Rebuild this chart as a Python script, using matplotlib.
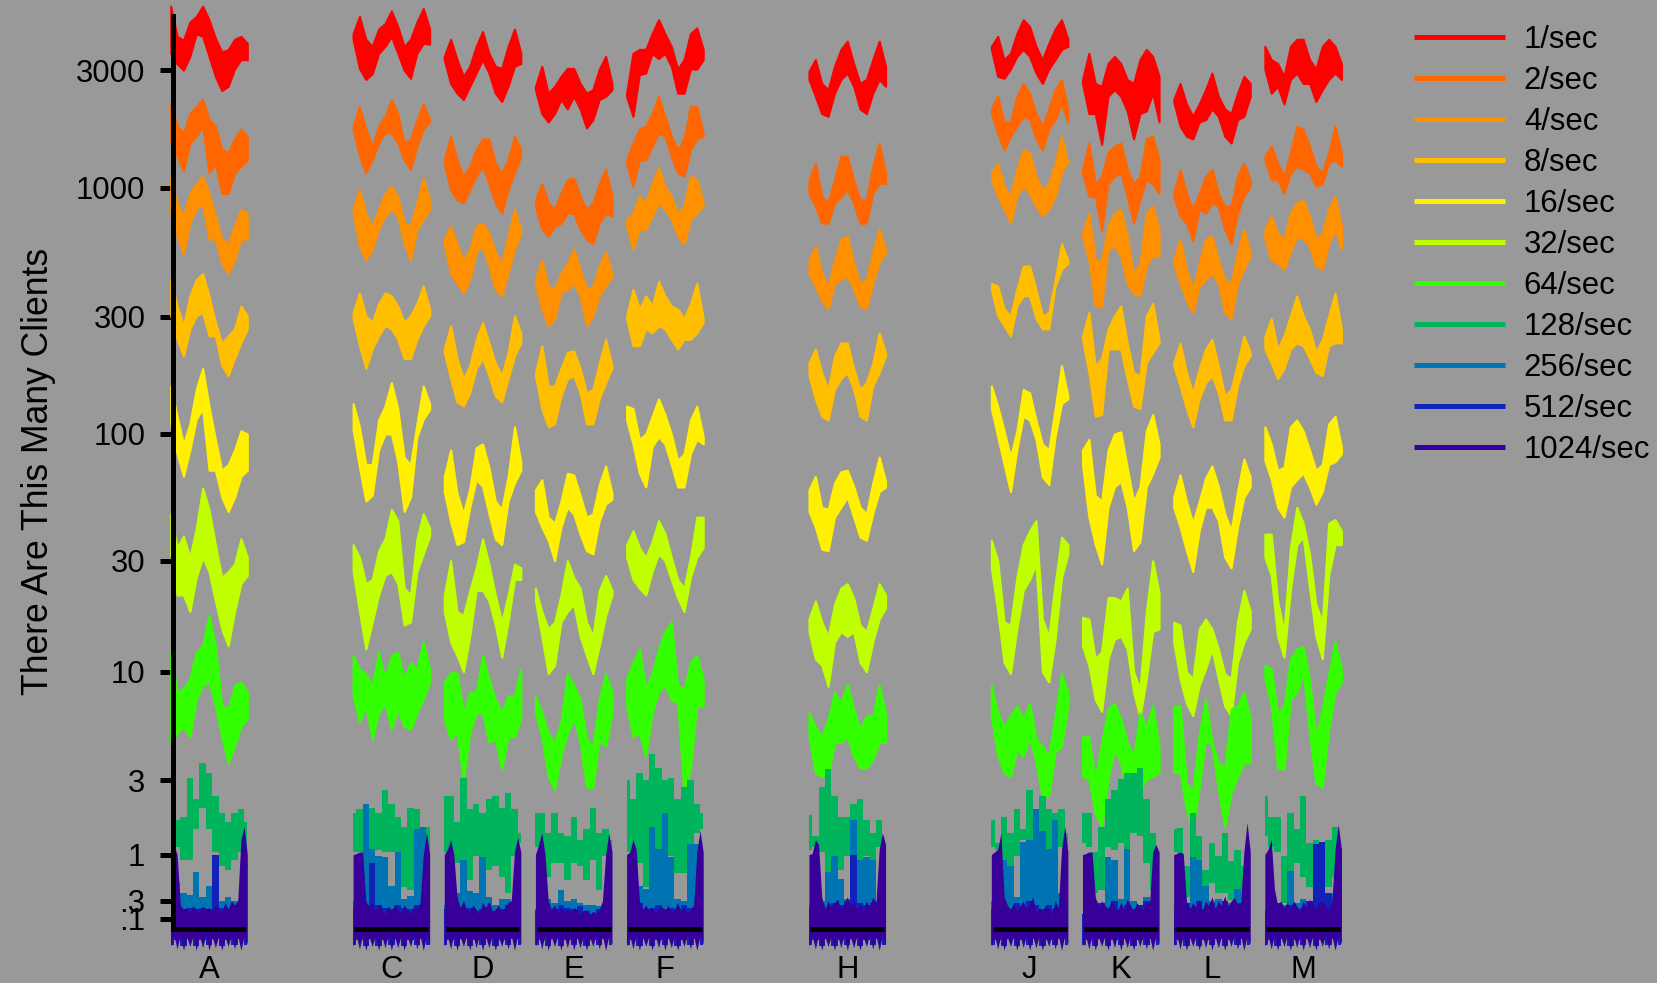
import numpy as np
import matplotlib
matplotlib.use("Agg")
import matplotlib.pyplot as plt
from matplotlib.lines import Line2D

plt.rcParams['font.family'] = ['Liberation Sans', 'DejaVu Sans']

rates = ['1/sec', '2/sec', '4/sec', '8/sec', '16/sec', '32/sec', '64/sec',
         '128/sec', '256/sec', '512/sec', '1024/sec']
colors = ['#FF0000', '#FF6600', '#FF9000', '#FFBF00', '#FFF000', '#BFFF00',
          '#33FF00', '#00B45C', '#0073B3', '#1122BB', '#360099']
ytick_vals = [.1, .3, 1, 3, 10, 30, 100, 300, 1000, 3000]
ytick_text = ['.1', '.3', '1', '3', '10', '30', '100', '300', '1000', '3000']
slots = {'A': 0, 'C': 2, 'D': 3, 'E': 4, 'F': 5, 'H': 7, 'J': 9, 'K': 10, 'L': 11, 'M': 12}

# upper and lower edge of each band, rows are 1/sec .. 128/sec
A_hi = [[5445,4110,3970,4700,4950,5445,4800,4040,3560,3630,4000,4110,3850],
        [2190,1780,1670,2000,2140,2290,1890,1780,1440,1390,1580,1730,1620],
        [1095,870,768,950,1040,1115,950,768,620,595,700,820,790],
        [425,332,276,365,425,450,365,285,235,251,268,332,303],
        [157,118,91,110,152,185,130,95,71,75,86,103,100],
        [47,34,38,31,41,60,49,35,25.5,27,29,37,31],
        [12.2,8.1,8.4,9.3,12.2,13,17.6,13,7,6.8,8.7,9,8.1],
        [4.2,1.77,1.85,3.1,2.35,3.7,3.3,2.45,1.95,1.7,1.95,2.05,1.7]]
A_lo = [[3510,3180,3000,3410,4210,4110,3410,2830,2480,2580,3030,3310,3310],
        [1520,1345,1170,1520,1620,1780,1150,1260,950,950,1150,1225,1300],
        [790,638,540,720,820,870,620,620,495,450,510,620,620],
        [303,243,208,268,303,312,251,251,190,173,203,235,268],
        [110,83,67,86,115,127,71,71,55,48,55,67,71],
        [32,21.5,21.5,18.3,25.5,31,27,20.3,15.4,13,18.3,24,26],
        [4.7,5.2,5.6,5,7.5,8.7,9,7,5,3.7,4.5,5.6,6.1],
        [1.95,1.15,.91,.91,1.53,2.1,1.53,1.05,.8,.74,.91,1.05,.85]]
A_256 = [.3,.55,.4,.37,.7,.35,.5,.4,.3,.35,.3,.28,.35]
A_512 = [.2,.18,.2,.22,.2,.22,.2,1.0,.22,.2,.25,.3,.2]
A_1024 = [1,1.2,1.0,.25,.2,.22,.17,.24,.2,.16,.24,.2,.22,.18,.25,.22,.16,.28,.2,.3,.25,.3,1.3,1.6,1.0]

C_hi = [[4220,4950,4000,3745,4400,4630,5210,4510,3745,4000,4700,5330,4400],
        [1780,2140,1730,1475,1780,1950,2280,2000,1520,1580,1890,2190,1890],
        [820,985,790,700,820,950,1015,925,720,700,870,1095,895],
        [312,375,303,285,340,375,365,332,285,303,340,400,323],
        [133,107,75,75,114,130,162,127,80,75,110,157,133],
        [35,31,24,25,33,37,49,44,23,21.5,37,47,41],
        [11.8,10.3,9.8,8.7,12.2,9.3,11.8,12.2,9.3,11,10.3,13.5,10.3],
        [1.95,2.05,2.2,2.1,1.95,2.67,2.2,1.85,1.6,2.1,2.05,1.6,1.6]]
C_lo = [[4000,3050,2750,2900,3510,3745,4110,3510,3000,2780,3510,3850,3820],
        [1730,1345,1150,1300,1520,1670,1670,1520,1300,1190,1475,1730,1850],
        [790,581,510,565,680,768,820,768,595,510,680,745,820],
        [295,229,185,222,251,276,268,243,203,203,243,276,303],
        [104,73,53,56,86,100,100,77,48,55,97,115,126],
        [27,18.3,12.6,16.5,21.5,26,27,24,16,16.5,27,32,38],
        [7.8,5.9,7,4.87,6.5,7.2,5.44,6.77,5.6,5.44,6.5,7.53,9],
        [1.05,1.05,1.09,1.09,1.09,1.05,1.05,.97,.48,.44,.74,.97,.8]]
C_256 = [.3,.3,2.2,1.1,.97,.95,.5,1.05,.32,.36,1.55,1.6,.45]
C_512 = [.2,.22,.25,.85,.25,.22,.2,.25,.22,.2,.25,.22,.2]
C_1024 = [1,1.02,1.05,1.05,.3,.22,.28,.18,.25,.2,.15,.24,.18,.26,.2,.16,.25,.2,.15,.24,.2,.28,1.0,1.45,1.0]

D_hi = [[3410,4000,3310,2830,3110,3745,4300,3510,3110,3050,3745,4400,3510],
        [1300,1620,1300,1115,1225,1430,1580,1580,1260,1150,1300,1620,1430],
        [620,700,595,510,565,700,720,655,550,495,638,820,680],
        [222,276,203,168,190,243,285,235,195,173,215,303,258],
        [67,86,57,47,60,88,91,73,53,49,67,107,77],
        [21.5,30,18.3,17.6,22.5,28,37,29,21.5,16.5,21.5,29,28],
        [9,9.9,9.9,6.5,8.1,8.1,11.8,9.3,7.5,6.5,7.8,7.8,10.3],
        [2.45,2.45,1.7,3.1,2.05,2.2,1.95,2.35,2.45,2.1,2.55,2.05,1.45]]
D_lo = [[3310,2650,2420,2280,2580,2920,3310,2920,2420,2240,2580,3110,3190],
        [1260,985,895,870,985,1115,1225,1040,870,790,985,1150,1345],
        [595,450,410,375,425,550,581,482,388,365,450,565,655],
        [215,168,135,130,147,185,203,173,143,135,168,208,235],
        [58,43.5,35,36,50,65,61,47,37,35,53,63,71],
        [18.3,13.5,11.8,10,14.3,22.5,22.5,20.3,16,11.6,16.5,25,25],
        [6.1,4.87,5.2,3.03,5.2,6.5,6.5,4.7,4.87,3.43,5,5,6.1],
        [1.05,.4,.85,.68,.58,.97,.91,.74,.8,.62,.4,.97,1.22]]
D_256 = [.25,.3,.4,.91,.42,.4,.95,.35,.25,.32,.32,.3,.5]
D_512 = [.2,.22,.25,.2,.22,.18,.2,.22,.18,.2,.25,.28,.3]
D_1024 = [1,1.1,1.3,1.0,.35,.22,.3,.2,.17,.25,.2,.15,.28,.22,.3,.18,.2,.25,.17,.22,.28,.3,1.05,1.35,1.05]

E_hi = [[2580,3110,2420,2580,2830,3050,3050,2650,2420,2500,3030,3410,2650],
        [895,1040,870,820,950,1080,1095,925,820,870,1040,1190,925],
        [425,510,400,388,450,495,565,468,388,400,482,550,450],
        [178,229,157,157,185,215,218,185,147,152,195,243,190],
        [59,65,45.5,43,53,69,68,56,45.5,47,62,74,57],
        [23,18.3,15.4,16.5,21.5,30,25.5,23,16.5,14.3,22.5,26,22.5],
        [7.8,6.5,5.2,4.7,5.9,9.8,8.7,7.5,4.87,4.5,7.5,9.8,8.1],
        [1.95,1.95,1.45,1.95,1.45,1.38,1.85,1.3,1.53,2.1,1.45,1.53,1.3]]
E_lo = [[2500,2000,1850,2000,2280,2090,2350,2090,1750,1890,2280,2350,2500],
        [843,680,638,700,720,790,790,680,620,595,720,790,768],
        [410,323,276,295,375,388,410,365,276,303,365,400,439],
        [173,127,107,110,143,168,173,147,110,110,139,162,185],
        [48,41.4,36.5,30,41.4,50,46.8,38.7,33,32,44,51.5,54],
        [20.3,14.3,9.8,10.7,16.5,18.3,19.6,14.3,11.8,9.8,13,17.6,21.5],
        [6.5,5,3.15,2.67,4,5.2,6.1,4.7,2.75,2.75,4.87,4.5,6.5],
        [1.15,.68,.62,.85,.85,.58,.85,.8,.58,.91,.44,.97,.97]]
E_256 = [.2,.25,.32,.28,.44,.3,.32,.28,.25,.25,.24,.22,.32]
E_512 = [.18,.2,.22,.2,.25,.22,.2,.24,.18,.15,.2,.22,.2]
E_1024 = [1,1.2,1.45,1.0,.3,.2,.25,.17,.22,.18,.2,.16,.22,.2,.15,.18,.2,.14,.18,.16,.2,.3,1.0,1.45,1.05]

F_hi = [[2420,3510,3640,3640,4220,4800,4220,3745,3030,3310,4220,4450,3640],
        [1300,1520,1730,1780,2000,2350,1950,1620,1430,1580,2140,2140,1670],
        [745,790,925,870,1040,1205,1015,925,790,843,1115,1080,870],
        [303,388,323,365,332,418,365,332,323,295,340,410,295],
        [130,127,95,100,118,139,120,100,78,83,114,130,97.5],
        [35,40,34,31,36,44,39,31,25,23,31,45.5,45.5],
        [9.3,11,12.6,8.4,9.9,12.6,15,16.5,8.7,8.4,11,11.8,9.3],
        [3,2.35,3.3,3,4.1,3.5,3,3.1,2.35,2.75,3,2.2,1.95]]
F_lo = [[2350,1950,2880,2920,3510,3340,3510,3110,2420,2420,3030,3030,3310],
        [1260,1015,1300,1300,1475,1670,1620,1345,1150,1115,1430,1580,1620],
        [700,565,680,680,768,870,820,745,638,595,745,790,843],
        [295,229,229,268,258,276,268,243,222,243,243,258,285],
        [114,91,69,60.6,88.5,97.5,91,75,60.6,60.6,83,95,91],
        [31,25,23,21.5,27,32,30,25,20.9,18.3,25.5,31,34],
        [7,5,5.2,4,6.5,8.1,8.7,7.5,7.2,2.55,3.5,7,7],
        [1.05,.97,.85,.48,.8,1.09,1.15,.97,.68,.68,1.15,1.45,1.53]]
F_256 = [.3,.3,.5,.45,1.6,1.1,1.95,.95,.32,.3,1.2,1.2,.55]
F_512 = [.22,.25,.28,.2,.22,.25,.2,.22,.2,.25,.22,.28,.3]
F_1024 = [1,1.05,1.3,1.1,.3,.2,.25,.18,.22,.16,.2,.24,.18,.25,.16,.2,.28,.18,.22,.15,.2,.25,1.05,1.5,1.05]

H_hi = [[2970,3310,2650,2500,3110,3640,3930,3190,2650,2750,3310,3930,3110],
        [1080,1260,925,870,1080,1345,1345,1080,895,895,1225,1520,1150],
        [510,581,450,400,510,620,638,495,410,425,550,680,565],
        [195,222,178,152,208,235,235,185,152,162,195,258,215],
        [59,67,50,49,63,70,71,61,50,47,63,80.5,64],
        [17,20.3,16.5,14.3,19.6,23,24,20.9,16,15,18.9,24,21.5],
        [6.5,5.6,5,6.1,8.1,7.2,8.8,6.77,5.44,6.3,6.3,8.7,6.5],
        [1.9,1.38,2.75,3.43,2.45,1.85,1.85,2.2,2.35,1.77,1.45,1.77,1.15]]
H_lo = [[2750,2350,2000,1950,2420,2750,2920,2580,2090,2000,2420,2750,2580],
        [950,843,720,720,870,925,985,870,720,720,950,1040,1040],
        [450,400,350,323,410,425,439,388,332,323,410,495,550],
        [173,139,118,114,152,168,178,152,118,114,157,178,208],
        [48,41.4,33.5,33,45.5,50,55,45.5,37.6,36.5,47,58,60.6],
        [15,11.4,10.7,8.6,13.5,15,14.3,15,11,10,13.5,17,18.9],
        [5,3.3,3.15,3.15,4.7,4.7,5,4,3.5,3.5,3.86,4.7,4.7],
        [1.09,1.15,1.05,.68,.97,.74,.97,1.05,.91,.97,.91,1.15,.74]]
H_256 = [.25,.25,.3,.7,.97,.6,.32,1.75,.9,.95,.9,.3,.35]
H_512 = [.22,.95,.25,.22,.28,.25,.3,1.0,.28,.25,.28,.25,.22]
H_1024 = [1,1.02,1.3,1.2,.35,.2,.3,.22,.28,.32,.2,.26,.35,.24,.3,.2,.26,.18,.3,.22,.35,.28,1.1,1.45,1.2]

J_hi = [[3745,4110,3310,3510,4220,4800,4510,3745,3310,3850,4400,4800,4000],
        [2090,2350,1850,1850,2350,2650,2420,2000,1780,2090,2500,2750,2090],
        [1150,1260,1015,925,1190,1430,1390,1115,985,1040,1260,1620,1260],
        [410,400,323,303,388,482,482,388,303,312,425,595,510],
        [157,130,103,80.5,103,152,147,114,91,86,127,190,143],
        [36.5,30,16.5,16,25.5,35,40,44,17,14.3,24,37.6,35],
        [8.7,6.5,5.6,6.3,7,6.1,7.2,4.87,4.5,4,6.3,9.8,8.1],
        [1.77,1.22,1.85,1.45,2.05,1.53,2.67,1.85,2.45,2.05,1.95,2.05,1.45]]
J_lo = [[3640,2830,2780,3030,3410,3640,3410,2920,2650,3030,3310,3640,3745],
        [2000,1670,1430,1620,1780,1950,1890,1580,1430,1730,1890,2190,1850],
        [1080,925,820,720,925,1015,950,843,768,820,925,1150,1300],
        [388,303,276,251,332,365,365,295,268,268,400,468,495],
        [127,97.5,75,58,86,118,114,95,66.7,62,97.5,133,139],
        [28,18.3,11,9.8,15.4,22.5,25,29,10,9,13.9,25.5,32],
        [6.3,4,3.3,3.15,4.34,4,5,3.7,2.45,2.45,4.2,4.5,7],
        [1.15,1.09,.74,.62,.97,1.3,.8,1.15,.62,.97,1.22,1.15,1.15]]
J_256 = [.3,.95,.9,.8,.35,1.25,1.3,2.05,1.5,1.1,1.77,.4,.4]
J_512 = [.2,.22,.25,.2,.28,.22,.3,.25,.2,.25,.2,.22,.2]
J_1024 = [1,1.05,1.1,1.45,.35,.25,.2,.28,.18,.24,.3,.2,.25,.35,.16,.22,.18,.25,.2,.15,.3,.22,1.1,1.6,1.05]

K_hi = [[2750,3510,2650,2580,3190,3410,3190,2750,2650,3310,3640,3410,2830],
        [1190,1520,1040,1115,1390,1475,1520,1190,1040,1115,1580,1620,1300],
        [655,790,510,510,700,790,820,638,450,495,790,843,680],
        [251,312,190,203,268,303,332,235,178,173,303,340,243],
        [86,95,56,53,86,100,102,73,53,60.6,103,120,91],
        [17.3,17,11.4,12.3,21,21,20.3,23,10,8.4,18.3,30,22],
        [5,5,3.03,4.7,6.77,7.2,6.1,4.7,4,6.5,5.6,7,4.5],
        [1.95,1.95,1.05,1.6,2.35,2.67,3.03,3.3,3.3,3.5,2.35,1.45,1.05]]
K_lo = [[2650,2000,2000,1500,2350,2500,2350,2050,1580,2000,2050,2420,1850],
        [1150,925,925,670,1040,1115,1150,925,720,895,1080,1040,950],
        [638,510,332,332,565,581,530,410,375,365,482,530,530],
        [243,178,118,120,222,222,222,168,130,127,195,215,235],
        [75,45.5,35,29,50,60.6,64,50,33,36,60.6,69,80.5],
        [13,10.7,7.5,6.6,11.4,13.9,14.3,12.6,8.1,6.2,9.3,15,15.4],
        [3.15,3.03,1.95,1.6,3.03,4.34,3.7,2.35,2.35,2.67,3.03,3.15,3.3],
        [1.22,1.15,.4,.44,1.15,1.09,1.22,1.09,1.45,1.38,.85,.44,.54]]
K_256 = [.15,.25,.3,.25,.95,.9,.32,1.1,.3,.25,.35,.3,.25]
K_512 = [.15,.2,.25,.28,.22,.3,.2,.25,.2,.25,.3,.2,.2]
K_1024 = [1,1.02,1.05,1.05,.35,.22,.3,.25,.2,.3,.24,.18,.28,.2,.32,.25,.18,.28,.22,.2,.3,.25,1.05,1.2,1.05]

L_hi = [[2280,2650,2190,1950,2190,2500,2920,2350,2090,2000,2420,2830,2650],
        [950,1190,950,820,950,1115,1190,950,843,843,1115,1260,1080],
        [510,620,468,388,495,620,638,510,425,410,550,680,550],
        [195,235,178,147,185,222,243,190,143,152,195,251,215],
        [55,68,53,43,53,66,74,61,47,40,58,79,66.7],
        [16.5,16,10,9.3,15.4,17,15.4,12.6,9.8,9.3,16.5,22.5,18.3],
        [7,7,2.9,2.6,5.2,7.5,4.7,3.7,3.5,6.77,7,8.1,6.1],
        [1.53,1.57,.8,1.95,1.38,.74,1.22,.97,1.45,.88,1.09,.8,1.05]]
L_lo = [[2240,1780,1620,1580,1850,1890,2090,1950,1620,1520,1890,1950,2350],
        [925,768,720,610,820,790,870,843,680,595,790,925,1015],
        [495,410,350,312,400,425,450,410,312,295,410,468,530],
        [190,157,127,107,139,162,173,147,114,114,157,190,208],
        [50,41.4,33,27,40,50,50,44,31,28,41.4,55,60.6],
        [13.5,9.3,7.2,6.3,8.7,10.3,12.6,9.3,7,6.3,11,13.5,15.4],
        [3.3,3.3,2.05,1.53,2.75,4.87,4.5,2.67,1.6,2.55,3.15,3.7,3.7],
        [1.05,.58,.35,.28,.54,.44,.54,.4,.4,.31,.28,.31,.31]]
L_256 = [.25,.25,.28,.95,.9,.5,.3,.32,.25,.28,.45,.28,.3]
L_512 = [.15,.2,.28,.22,.3,.2,.28,.22,.3,.25,.28,.22,.2]
L_1024 = [1,1.02,1.05,1.02,.3,.2,.28,.22,.32,.18,.3,.24,.35,.2,.3,.24,.36,.22,.3,.34,.26,.28,1.05,1.7,1.05]

M_hi = [[3745,3310,3190,2830,3745,4000,4000,3310,3030,3745,4000,3745,3190],
        [1345,1475,1260,1115,1390,1780,1730,1475,1225,1150,1390,1780,1390],
        [680,768,655,620,790,870,895,768,620,655,820,925,700],
        [251,295,222,251,303,365,303,268,215,243,303,375,268],
        [107,91,71,73,107,114,103,86,71,75,110,118,88.5],
        [38.7,38.7,20.3,15,34,50,43,32,19.6,16.5,43,44.5,40],
        [10.7,10.3,6.5,7,11.4,12.6,12.9,9.3,5,6.77,9.8,13.5,10.3],
        [2.45,1.85,1.85,.97,1.95,1.53,2.45,1.22,1.3,1.22,1.3,1.6,.97]]
M_lo = [[3030,2420,2580,2190,2750,2920,2650,2650,2240,2500,2750,2920,2750],
        [1300,1080,1080,950,1150,1225,1190,1150,1015,1040,1260,1300,1225],
        [620,510,495,468,550,638,620,581,482,468,595,680,565],
        [222,195,168,185,222,235,229,203,178,173,229,235,235],
        [78,65,50,45.5,60.6,65,69,60.6,51.5,58,75,77,83],
        [31,26,14.3,11.6,22.5,35,37.6,23,14.3,11.4,26,35,35],
        [9.3,7,3.5,3.43,7.5,8.1,10,5.2,2.9,2.75,5.44,8.1,9],
        [1.38,1.15,1.05,.28,.31,.85,.62,.48,.48,.97,.48,.62,.58]]
M_256 = [.2,.22,.28,.25,.72,.28,.32,.25,.28,.3,.28,.38,.35]
M_512 = [.18,.22,.28,.22,.25,.2,.22,.3,1.2,1.25,.4,.3,.25]
M_1024 = [1,1.1,1.3,.45,.25,.3,.22,.28,.2,.3,.24,.18,.3,.22,.32,.26,.2,.28,.3,.24,.2,.28,1.1,1.65,1.1]

# the three fastest rates all reach just under zero
floor_256 = [-.1,-.07,-.11,-.08,-.12,-.09,-.11,-.07,-.12,-.08,-.1,-.07,-.1]
floor_512 = [-.14,-.1,-.15,-.09,-.15,-.1,-.14,-.09,-.15,-.1,-.14,-.09,-.14]
floor_1024 = [-.15,-.06,-.17,-.05,-.18,-.07,-.15,-.06,-.18,-.06,-.16,-.05,-.18,
              -.07,-.16,-.06,-.18,-.07,-.15,-.05,-.17,-.06,-.18,-.06,-.13]

panels = {'A': (A_hi, A_lo, A_256, A_512, A_1024), 'C': (C_hi, C_lo, C_256, C_512, C_1024),
          'D': (D_hi, D_lo, D_256, D_512, D_1024), 'E': (E_hi, E_lo, E_256, E_512, E_1024),
          'F': (F_hi, F_lo, F_256, F_512, F_1024), 'H': (H_hi, H_lo, H_256, H_512, H_1024),
          'J': (J_hi, J_lo, J_256, J_512, J_1024), 'K': (K_hi, K_lo, K_256, K_512, K_1024),
          'L': (L_hi, L_lo, L_256, L_512, L_1024), 'M': (M_hi, M_lo, M_256, M_512, M_1024)}

W, H = 1657, 983
fig = plt.figure(figsize=(W / 100, H / 100), dpi=100, facecolor='#999999')
ax = fig.add_axes([173 / W, (H - 929) / H, 1173 / W, 913 / H], facecolor='#999999')
ax.set_yscale('function', functions=(lambda y: np.log10(np.maximum(y + 1, 1e-6)),
                                     lambda v: 10.0 ** v - 1))
half = 0.42


def band(slot, hi, lo, color, z, step, edge=0):
    x = np.linspace(slot - half, slot + half, len(hi))
    ax.fill_between(x, lo, hi, facecolor=color, edgecolor=color, lw=edge, zorder=z,
                    clip_on=False, step='mid' if step else None)


for name, slot in slots.items():
    hi, lo, b256, b512, b1024 = panels[name]
    for k in range(7):
        band(slot, hi[k], lo[k], colors[k], k + 1, False, edge=1.5)
    band(slot, hi[7], lo[7], colors[7], 8, True)
    band(slot, b256, floor_256, colors[8], 9, True)
    band(slot, b512, floor_512, colors[9], 10, True)
    band(slot, b1024, floor_1024, colors[10], 11, False)
    ax.plot([slot - .405, slot + .405], [0, 0], color='k', lw=3.6, zorder=20,
            clip_on=False, solid_capstyle='butt')

ax.set_xlim(-0.395, 12.47)
ax.set_ylim(0, 4970)
ax.set_xticks(list(slots.values()), list(slots.keys()))
ax.set_yticks(ytick_vals, ytick_text)
ax.minorticks_off()
ax.tick_params(axis='x', length=8.6, width=3.6, pad=10, labelsize=22.4, zorder=20)
ax.tick_params(axis='y', length=9.4, width=3.6, pad=10.5, labelsize=22.4, zorder=20)
for s in ['top', 'right', 'bottom']:
    ax.spines[s].set_visible(False)
ax.spines['left'].set_linewidth(3.6)
ax.spines['left'].set_zorder(20)
ax.set_ylabel('There Are This Many Clients', fontsize=25.6, va='center')
ax.yaxis.set_label_coords(-0.1149, 0.5016)

handles = [Line2D([], [], color=c, lw=3.6, solid_capstyle='butt') for c in colors]
fig.legend(handles, rates, loc='upper left', bbox_to_anchor=(1414 / W, 1 - 25 / H),
           frameon=False, fontsize=22.4, handlelength=2.93, handletextpad=0.6,
           labelspacing=0.353, borderpad=0, borderaxespad=0)

fig.savefig('out.png', dpi=100, facecolor=fig.get_facecolor())
